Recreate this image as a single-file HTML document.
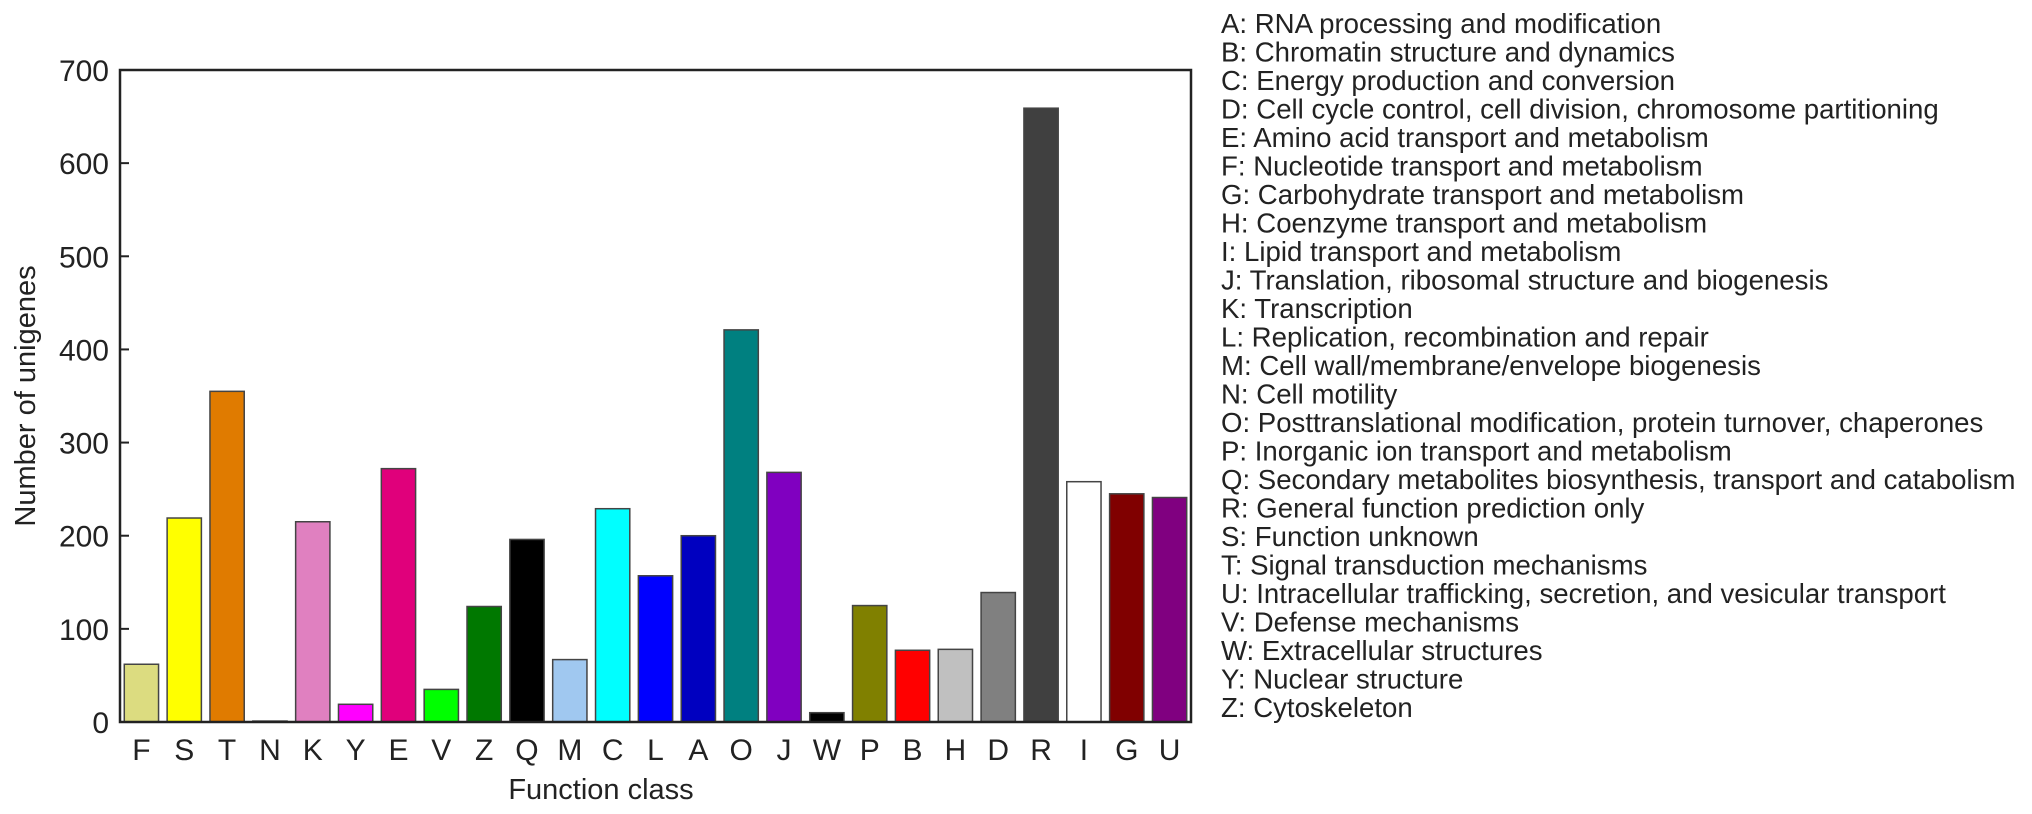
<!DOCTYPE html>
<html><head><meta charset="utf-8"><style>
html,body{margin:0;padding:0;background:#fff;}
svg{display:block;font-family:"Liberation Sans",Arial,sans-serif;}
</style></head><body>
<svg id="chart" width="2032" height="814" viewBox="0 0 2032 814" xmlns="http://www.w3.org/2000/svg">
<g id="bars"></g>
<g id="yaxis"></g>
<g id="xaxis"></g>
<rect x="120" y="70" width="1071" height="652" fill="none" stroke="#222" stroke-width="2.5"/>
<text transform="translate(35,396) rotate(-90)" text-anchor="middle" font-size="29" fill="#222">Number of unigenes</text>
<text x="601" y="799" text-anchor="middle" font-size="29" fill="#222">Function class</text>
<g id="legend"></g>
</svg>
<script>
const categories = ["F","S","T","N","K","Y","E","V","Z","Q","M","C","L","A","O","J","W","P","B","H","D","R","I","G","U"];
const values = [62,219,355,1,215,19,272,35,124,196,67,229,157,200,421,268,10,125,77,78,139,659,258,245,241];
const colors = ["#dcdc80","#ffff00","#e07b00","#ffffff","#e080c0","#ff00ff","#e0007b","#00ff00","#007800","#000000","#a0c8f0","#00ffff","#0000ff","#0000c0","#008080","#8000c0","#000000","#808000","#ff0000","#c0c0c0","#808080","#404040","#ffffff","#800000","#800080"];
const yTicks = [0,100,200,300,400,500,600,700];
const legendLabels = ["A: RNA processing and modification","B: Chromatin structure and dynamics","C: Energy production and conversion","D: Cell cycle control, cell division, chromosome partitioning","E: Amino acid transport and metabolism","F: Nucleotide transport and metabolism","G: Carbohydrate transport and metabolism","H: Coenzyme transport and metabolism","I: Lipid transport and metabolism","J: Translation, ribosomal structure and biogenesis","K: Transcription","L: Replication, recombination and repair","M: Cell wall/membrane/envelope biogenesis","N: Cell motility","O: Posttranslational modification, protein turnover, chaperones","P: Inorganic ion transport and metabolism","Q: Secondary metabolites biosynthesis, transport and catabolism","R: General function prediction only","S: Function unknown","T: Signal transduction mechanisms","U: Intracellular trafficking, secretion, and vesicular transport","V: Defense mechanisms","W: Extracellular structures","Y: Nuclear structure","Z: Cytoskeleton"];

const NS="http://www.w3.org/2000/svg";
const X0=120,X1=1191,Y0=722,Y1=70,YMAX=700;
const slot=(X1-X0)/categories.length;
function xc(i){return X0+slot*(i+0.5);}
function yv(v){return Y0-(v/YMAX)*(Y0-Y1);}
function mk(t,a){const e=document.createElementNS(NS,t);for(const k in a)e.setAttribute(k,a[k]);return e;}
const bars=document.getElementById('bars');
categories.forEach((c,i)=>{
  const bw=slot*0.8;
  const r=mk('rect',{x:xc(i)-bw/2,y:yv(values[i]),width:bw,height:Y0-yv(values[i]),fill:colors[i],stroke:'#444','stroke-width':1.5});
  
  
  bars.appendChild(r);
  const t=mk('text',{x:xc(i),y:760,'text-anchor':'middle','font-size':30,fill:'#222'});
  t.textContent=c;
  
  
  document.getElementById('xaxis').appendChild(t);
});
const ya=document.getElementById('yaxis');
yTicks.forEach(v=>{
  const t=mk('text',{x:109,y:yv(v)+11,'text-anchor':'end','font-size':30,fill:'#222'});
  t.textContent=v;
  
  
  ya.appendChild(t);
  const l=mk('line',{x1:X0,x2:X0+9,y1:yv(v),y2:yv(v),stroke:'#222','stroke-width':2});
  
  
  ya.appendChild(l);
});
const lg=document.getElementById('legend');
legendLabels.forEach((s,i)=>{
  const t=mk('text',{x:1221,y:33+i*28.5,'font-size':27.6,fill:'#222'});
  t.textContent=s;
  
  
  lg.appendChild(t);
});
</script>
</body></html>
